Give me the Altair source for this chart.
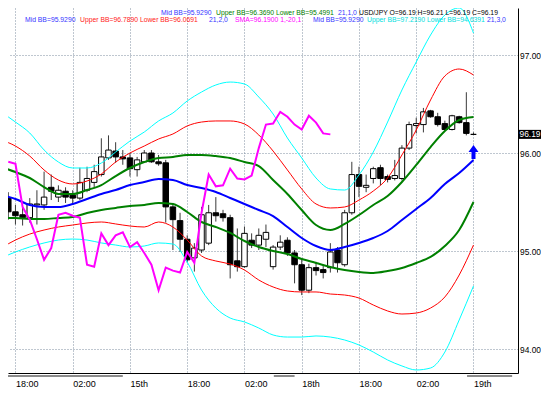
import altair as alt
import pandas as pd

# ---------------- data ----------------
# hourly USD/JPY candles, bar index 0..65
opens = [95.54, 95.40, 95.37, 95.34, 95.47, 95.47, 95.65, 95.55, 95.61, 95.57,
         95.54, 95.62, 95.70, 95.78, 95.95, 96.02, 95.96, 95.95, 95.83, 95.91,
         96.00, 95.91, 95.90, 95.45, 95.31, 95.12, 94.93, 95.01, 95.08, 95.39,
         95.38, 95.34, 94.90, 94.84, 95.11, 95.06, 95.12, 94.84, 95.04, 95.11,
         94.98, 94.86, 94.60, 94.83, 94.81, 94.83, 95.01, 94.86, 95.39, 95.78,
         95.65, 95.74, 95.85, 95.76, 95.74, 95.74, 96.05, 96.28, 96.29, 96.43,
         96.37, 96.30, 96.24, 96.37, 96.31, 96.19]
highs = [95.60, 95.47, 95.44, 95.54, 95.62, 95.81, 95.78, 95.67, 95.65, 95.62,
         95.85, 95.86, 95.88, 96.15, 96.18, 96.11, 96.03, 96.00, 95.96, 96.03,
         96.03, 95.98, 95.93, 95.49, 95.39, 95.16, 95.08, 95.45, 95.47, 95.55,
         95.42, 95.37, 95.23, 95.25, 95.18, 95.23, 95.27, 95.06, 95.16, 95.14,
         95.01, 94.91, 94.87, 94.89, 94.86, 95.08, 95.04, 95.42, 95.91, 95.86,
         95.78, 95.86, 95.88, 95.78, 95.93, 96.08, 96.32, 96.36, 96.46, 96.44,
         96.41, 96.33, 96.39, 96.38, 96.62, 96.21]
lows = [95.32, 95.27, 95.26, 95.29, 95.27, 95.42, 95.52, 95.50, 95.49, 95.47,
        95.52, 95.60, 95.65, 95.76, 95.93, 95.90, 95.88, 95.76, 95.76, 95.90,
        95.90, 95.87, 95.29, 95.01, 94.99, 94.88, 94.79, 94.98, 95.06, 95.30,
        95.30, 94.72, 94.79, 94.83, 95.03, 95.01, 95.04, 94.81, 95.01, 94.95,
        94.67, 94.55, 94.57, 94.75, 94.72, 94.78, 94.78, 94.84, 95.37, 95.55,
        95.60, 95.69, 95.67, 95.70, 95.72, 95.72, 96.03, 96.20, 96.21, 96.36,
        96.27, 96.23, 96.23, 96.30, 96.18, 96.19]
closes = [95.40, 95.36, 95.34, 95.48, 95.48, 95.55, 95.61, 95.62, 95.55, 95.54,
          95.70, 95.74, 95.81, 95.96, 96.03, 95.96, 95.94, 95.84, 95.93, 96.00,
          95.91, 95.89, 95.45, 95.32, 95.12, 94.91, 95.03, 95.37, 95.39, 95.36,
          95.34, 94.86, 94.84, 95.18, 95.06, 95.16, 95.19, 95.04, 95.09, 94.98,
          94.86, 94.60, 94.83, 94.80, 94.78, 94.99, 94.88, 95.39, 95.78, 95.66,
          95.67, 95.84, 95.74, 95.73, 95.77, 96.05, 96.29, 96.30, 96.42, 96.37,
          96.29, 96.24, 96.38, 96.31, 96.20, 96.19]

# Bollinger bands (21 period, 1/2/3 deviations), sampled every second bar
band_bars = [-1, 1, 3, 5, 7, 9, 11, 13, 15, 17, 19, 21, 23, 25, 27, 29, 31,
             33, 35, 37, 39, 41, 43, 45, 47, 49, 51, 53, 55, 57, 59, 61, 63, 65]
mid_bb = [95.571, 95.531, 95.469, 95.449, 95.449, 95.480, 95.531, 95.582, 95.622,
          95.673, 95.704, 95.735, 95.724, 95.673, 95.643, 95.602, 95.541, 95.480,
          95.418, 95.357, 95.245, 95.133, 95.051, 95.010, 95.041, 95.082, 95.133,
          95.204, 95.316, 95.429, 95.541, 95.684, 95.796, 95.929]
upper_1 = [95.857, 95.806, 95.745, 95.653, 95.582, 95.582, 95.622, 95.673, 95.765,
           95.847, 95.908, 95.949, 95.959, 95.980, 95.980, 95.969, 95.949, 95.908,
           95.867, 95.724, 95.582, 95.418, 95.265, 95.214, 95.276, 95.367, 95.469,
           95.561, 95.704, 95.878, 96.061, 96.224, 96.337, 96.367]
lower_1 = [95.337, 95.337, 95.327, 95.327, 95.337, 95.347, 95.388, 95.418, 95.439,
           95.459, 95.469, 95.490, 95.480, 95.398, 95.296, 95.245, 95.184, 95.102,
           95.041, 95.000, 94.969, 94.918, 94.878, 94.837, 94.806, 94.786, 94.776,
           94.796, 94.827, 94.878, 94.939, 95.051, 95.214, 95.500]
upper_2 = [96.133, 96.071, 95.969, 95.827, 95.724, 95.684, 95.714, 95.786, 95.908,
           96.000, 96.071, 96.143, 96.194, 96.276, 96.316, 96.327, 96.327, 96.296,
           96.184, 96.020, 95.827, 95.633, 95.480, 95.439, 95.449, 95.520, 95.612,
           95.745, 95.980, 96.235, 96.541, 96.786, 96.857, 96.796]
lower_2 = [95.031, 95.112, 95.173, 95.214, 95.245, 95.265, 95.286, 95.296, 95.276,
           95.255, 95.245, 95.296, 95.245, 95.112, 94.949, 94.898, 94.867, 94.806,
           94.704, 94.633, 94.592, 94.582, 94.582, 94.561, 94.551, 94.520, 94.449,
           94.388, 94.357, 94.367, 94.418, 94.531, 94.755, 95.061]
upper_3 = [96.418, 96.316, 96.204, 96.031, 95.908, 95.847, 95.847, 95.898, 96.010,
           96.122, 96.214, 96.327, 96.408, 96.531, 96.622, 96.694, 96.724, 96.704,
           96.571, 96.398, 96.153, 95.949, 95.745, 95.633, 95.622, 95.776, 96.010,
           96.316, 96.643, 96.929, 97.204, 97.408, 97.480, 97.224]
lower_3 = [94.929, 94.990, 95.041, 95.082, 95.112, 95.122, 95.112, 95.082, 95.061,
           95.041, 95.051, 95.082, 95.071, 94.888, 94.602, 94.418, 94.316, 94.276,
           94.214, 94.143, 94.122, 94.122, 94.133, 94.122, 94.092, 94.041, 93.969,
           93.888, 93.827, 93.786, 93.806, 93.969, 94.296, 94.643]

# SMA(1) shifted -20 bars: close plotted 20 bars earlier
sma_shift = 20

grid_bars = [1, 9, 17, 25, 33, 41, 49, 57, 65]
x_labels = ["18:00", "02:00", "15th", "18:00", "02:00", "18th", "18:00", "02:00", "19th"]
y_ticks = [94, 95, 96, 97]
last_price = 96.19
arrow_bar = 65
arrow_price = 96.01
sep_start = [-0.5, 37.1, 64.1]
sep_end = [16.0, 40.0, 70.4]

legend_text = ["Mid BB=95.9290", "Upper BB=96.3690 Lower BB=95.4991", "21,1,0",
               "USD/JPY O=96.19 H=96.21 L=96.19 C=96.19",
               "Mid BB=95.9290", "Upper BB=96.7890 Lower BB=96.0691", "21,2,0",
               "SMA=96.1900 1,-20,1", "Mid BB=95.9290",
               "Upper BB=97.2190 Lower BB=94.6391", "21,3,0"]
legend_color = ["#3535ff", "#008000", "#3535ff", "#000000",
                "#3535ff", "#ff2020", "#3535ff", "#ff00ff", "#3535ff",
                "#00dede", "#3535ff"]
legend_x = [153, 208, 330, 351, 17, 72, 201, 227, 305, 359, 479]
legend_row = [0, 0, 0, 0, 1, 1, 1, 1, 1, 1, 1]

# ---------------- layout ----------------
W, H = 510, 365
px_per_bar = 7.3
x_first = 1 - 2.5 / px_per_bar
x_dom = [x_first, x_first + W / px_per_bar]
y_top = 97.4796
y_dom = [y_top - H / 98.0, y_top]

FONT = "Liberation Sans"
GRID = "#7f8fa0"

xs = alt.Scale(domain=x_dom, nice=False, zero=False)
ys = alt.Scale(domain=y_dom, nice=False, zero=False)

js_labels = "[" + ",".join("'%s'" % s for s in x_labels) + "]"
js_bars = "[" + ",".join(str(b) for b in grid_bars) + "]"

xaxis = alt.Axis(values=grid_bars, labelExpr=f"{js_labels}[indexof({js_bars}, datum.value)]",
                 grid=True, gridDash=[1, 2], gridColor=GRID, gridOpacity=1, ticks=False,
                 domain=True, domainColor="#000000", labelAlign="left", labelPadding=6,
                 labelFont=FONT, labelFontSize=9, labelColor="#000000", title=None,
                 labelFlush=False, labelOverlap=False)
yaxis = alt.Axis(orient="right", values=y_ticks, format=".2f", grid=True, gridDash=[1, 2],
                 gridColor=GRID, gridOpacity=1, ticks=False, domain=True,
                 domainColor="#000000", labelPadding=1.5, labelFont=FONT, labelFontSize=8.4,
                 labelColor="#000000", title=None, labelFlush=False, labelOverlap=False)


def X(field):
    return alt.X(field, scale=xs, axis=xaxis)


def Y(field):
    return alt.Y(field, scale=ys, axis=yaxis)


bars = list(range(len(opens)))
cdf = pd.DataFrame({"i": bars, "o": opens, "h": highs, "l": lows, "c": closes})
cdf["fill"] = ["#ffffff" if c >= o else "#000000" for o, c in zip(opens, closes)]

wicks = alt.Chart(cdf).mark_rule(color="#3a3a3a", strokeWidth=1, clip=True).encode(
    x=X("i:Q"), y=Y("l:Q"), y2="h:Q",
)
bodies = alt.Chart(cdf).mark_bar(size=5.5, stroke="#000000", strokeWidth=1, clip=True).encode(
    x=X("i:Q"), y=Y("o:Q"), y2="c:Q",
    fill=alt.Fill("fill:N", scale=None),
)


def band(values, color, width):
    df = pd.DataFrame({"i": band_bars, "p": values})
    return alt.Chart(df).mark_line(color=color, strokeWidth=width, clip=True,
                                   interpolate="monotone").encode(x=X("i:Q"), y=Y("p:Q"))


sma_df = pd.DataFrame({"i": bars[:len(bars) - sma_shift], "p": closes[sma_shift:]})
sma = alt.Chart(sma_df).mark_line(color="#ff00ff", strokeWidth=2, clip=True).encode(
    x=X("i:Q"), y=Y("p:Q"),
)

arrow_path = "M0,-1.4L1,0L0.4,0L0.4,1.4L-0.4,1.4L-0.4,0L-1,0Z"
arrow = alt.Chart(pd.DataFrame({"i": [arrow_bar], "p": [arrow_price]})).mark_point(
    shape=arrow_path, filled=True, color="#0000ff", size=100, opacity=1).encode(
    x=X("i:Q"), y=Y("p:Q"),
)

sep_df = pd.DataFrame({"i": sep_start, "b": sep_end})
seps = alt.Chart(sep_df).mark_rect(color="#8c8c8c").encode(
    x=X("i:Q"), x2="b:Q",
    y=alt.value(H + 2), y2=alt.value(H + 4),
)

pdf = pd.DataFrame({"p": [last_price], "p0": [last_price - 0.046], "p1": [last_price + 0.046],
                    "t": ["%.2f" % last_price]})
pbox = alt.Chart(pdf).mark_rect(color="#000000").encode(
    x=alt.value(W + 1), x2=alt.value(W + 23),
    y=Y("p0:Q"), y2="p1:Q",
)
ptext = alt.Chart(pdf).mark_text(color="#ffffff", font=FONT, fontSize=8.4, align="left",
                                 baseline="middle").encode(
    x=alt.value(W + 1.5), y=Y("p:Q"), text="t:N",
)

legend_layers = []
for t, c, x, r in zip(legend_text, legend_color, legend_x, legend_row):
    legend_layers.append(
        alt.Chart().mark_text(font=FONT, fontSize=6.8, align="left", baseline="alphabetic",
                              color=c).encode(
            x=alt.value(x), y=alt.value(6.5 if r == 0 else 13.5), text=alt.value(t)))

chart = alt.layer(
    wicks, bodies,
    band(upper_3, "#00ffff", 1), band(lower_3, "#00ffff", 1),
    band(upper_2, "#ff0000", 1), band(lower_2, "#ff0000", 1),
    band(upper_1, "#008000", 2), band(lower_1, "#008000", 2),
    band(mid_bb, "#0000ff", 2),
    sma, arrow, seps, pbox, ptext, *legend_layers,
).properties(
    width=W, height=H,
    autosize=alt.AutoSizeParams(type="none"),
    padding={"left": 0, "top": 0, "right": 23, "bottom": 14},
    background="#ffffff",
).configure_view(strokeWidth=0)

chart.save("out.html", embed_options={"renderer": "svg", "actions": False})
